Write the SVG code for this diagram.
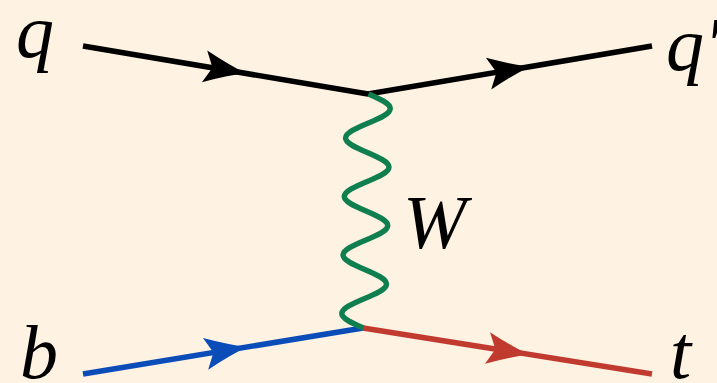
<svg xmlns="http://www.w3.org/2000/svg" width="717" height="383" viewBox="0 0 717 383">
<style>
.ln{fill:none;stroke-width:5.5;stroke-linecap:butt;stroke-linejoin:round}
.lbl{font-family:"Liberation Serif","Times New Roman",serif;font-style:italic;font-size:76px;fill:#000}
</style>
<defs>
<path id="arr" d="M1,0 Q-15,-4.5 -41,-16 L-33,0 L-41,16 Q-15,4.5 1,0 Z"/>
</defs>
<rect width="717" height="383" fill="#fef2e2"/>
<g id="connectors">
<path class="ln" stroke="#000" d="M83,46 L368,94 L652,46"/>
<path class="ln" stroke="#0a4cb8" d="M83,374 L363,328"/>
<path class="ln" stroke="#c13a2f" d="M363,328 L652,374"/>
<path class="ln" stroke="#0f7f4f" stroke-width="6" transform="matrix(1,0,-0.02137,1,368.5,94)" d="M0,0 c11.27,4.77 22,9.33 22,14.625 c0,5.295 -10.73,9.855 -22,14.625 c-11.27,4.77 -22,9.33 -22,14.625 c0,5.295 10.73,9.855 22,14.625 c11.27,4.77 22,9.33 22,14.625 c0,5.295 -10.73,9.855 -22,14.625 c-11.27,4.77 -22,9.33 -22,14.625 c0,5.295 10.73,9.855 22,14.625 c11.27,4.77 22,9.33 22,14.625 c0,5.295 -10.73,9.855 -22,14.625 c-11.27,4.77 -22,9.33 -22,14.625 c0,5.295 10.73,9.855 22,14.625 c11.27,4.77 22,9.33 22,14.625 c0,5.295 -10.73,9.855 -22,14.625 c-11.27,4.77 -22,9.33 -22,14.625 c0,5.295 10.73,9.855 22,14.625"/>
<use href="#arr" fill="#000" transform="translate(245,73.2) rotate(9.56)"/>
<use href="#arr" fill="#000" transform="translate(529,66.8) rotate(-9.6)"/>
<use href="#arr" fill="#0a4cb8" transform="translate(246,347.2) rotate(-9.33)"/>
<use href="#arr" fill="#c13a2f" transform="translate(528,354.4) rotate(9.04)"/>
</g>
<g id="q"><text class="lbl" x="16" y="57">q</text></g>
<g id="qprime"><text class="lbl" x="666" y="70">q′</text></g>
<g id="W"><text class="lbl" x="403" y="248">W</text></g>
<g id="b"><text class="lbl" x="20" y="378">b</text></g>
<g id="t"><text class="lbl" x="670" y="378">t</text></g>
</svg>
